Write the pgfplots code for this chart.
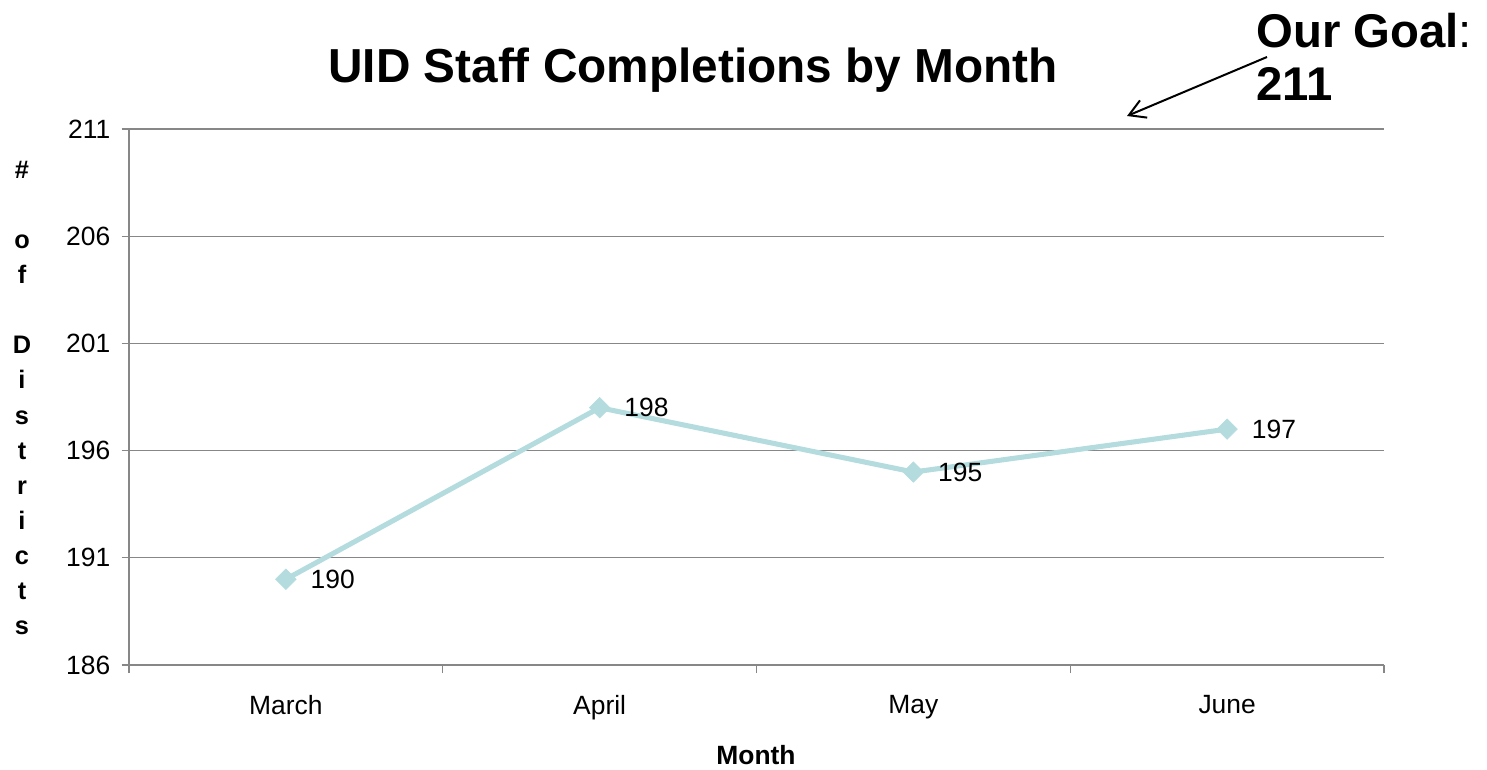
\documentclass[border=0pt]{standalone}
\usepackage{pgfplots}
\pgfplotsset{compat=1.18}
\usepackage{fontspec}
\setmainfont{Liberation Sans}
\usetikzlibrary{arrows.meta}
\definecolor{lineblue}{HTML}{B4DCDF}
\definecolor{gridgray}{HTML}{878787}
\begin{document}
\begin{tikzpicture}
\path (0,0) rectangle (1115.25pt,575.25pt);
\begin{axis}[
  at={(96.75pt,76.5pt)}, anchor=south west,
  scale only axis, width=941.25pt, height=402pt,
  xmin=-0.5, xmax=3.5, ymin=186, ymax=211,
  ytick={186,191,196,201,206,211},
  xtick={0,1,2,3},
  xticklabels={March,April,May,June},
  minor xtick={-0.5,0.5,1.5,2.5,3.5},
  axis x line*=bottom, axis y line*=left,
  axis line style={gridgray, line width=1pt, -},
  ymajorgrids, grid style={gridgray, line width=1pt},
  major x tick style={draw=none},
  minor x tick style={gridgray, line width=1pt},
  y tick style={gridgray, line width=1pt},
  tick align=outside,
  major tick length=5.5pt, minor tick length=6pt,
  ticklabel style={font=\fontsize{19.8}{22}\selectfont},
  xticklabel style={yshift=-14pt},
  yticklabel style={xshift=-5pt},
  /pgf/number format/assume math mode=true,
  clip=false,
]
\addplot[color=lineblue, line width=3.8pt, mark=square*, mark size=5.4pt,
  mark options={fill=lineblue, draw=lineblue, line width=0.5pt, rotate=45},
  nodes near coords, every node near coord/.append style={anchor=west, xshift=15pt, font=\fontsize{19.8}{22}\selectfont, text=black}]
  coordinates {(0,190) (1,198) (2,195) (3,197)};
\end{axis}
\begin{scope}[x=0.75pt,y=0.75pt]
\node[font=\fontsize{35.8}{40}\selectfont\bfseries] at (693,697) {UID Staff Completions by Month};
\node[anchor=north west, inner sep=0pt, align=left, font=\fontsize{35.5}{40}\selectfont\bfseries] at (1256,754) {Our Goal\textmd{:}\\211};
\draw[line width=1.5pt, -{Straight Barb[length=12pt,width=14pt]}] (1267,710) -- (1127,651);
\node[align=center, font=\fontsize{19}{26.3}\selectfont\bfseries] at (22,369) {\#\\\mbox{}\\o\\f\\\mbox{}\\D\\i\\s\\t\\r\\i\\c\\t\\s};
\node[font=\fontsize{19.8}{22}\selectfont\bfseries] at (756,12) {Month};
\end{scope}
\end{tikzpicture}
\end{document}
